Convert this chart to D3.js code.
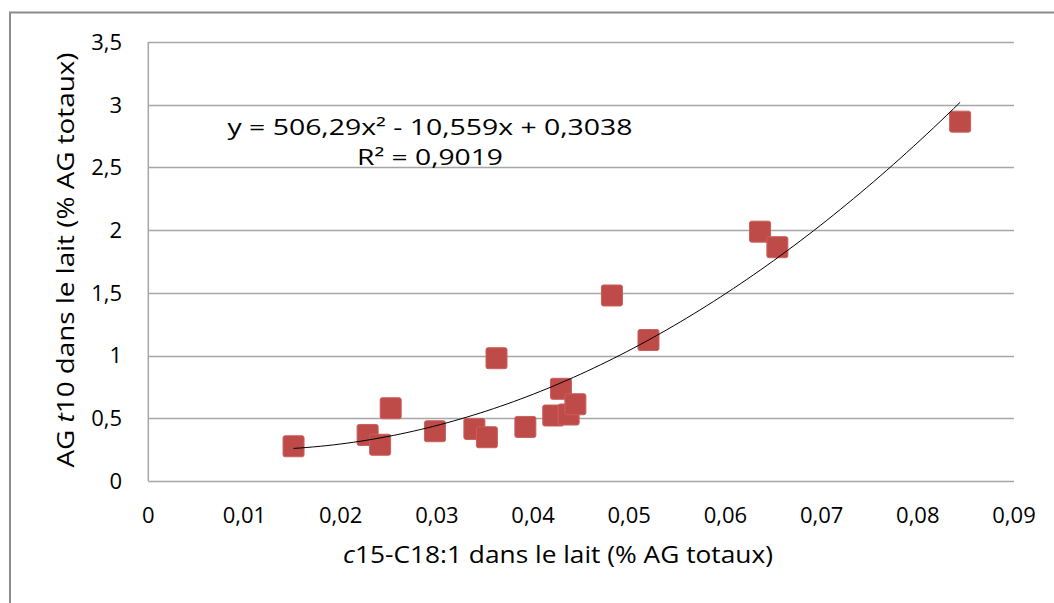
<!DOCTYPE html>
<html lang="fr">
<head>
    <meta charset="UTF-8">
    <title>AG t10 vs c15-C18:1</title>
    <script src="https://cdn.jsdelivr.net/npm/d3@7/dist/d3.min.js"></script>
    <style>
        body { margin: 0; background: #fff; }
        text { font-family: "Open Sans", "Noto Sans", sans-serif; fill: #000; }
    </style>
</head>
<body>

<svg width="1054" height="603"></svg>

<script>

    // data
    var xValues = [0.0151, 0.0228, 0.0241, 0.0252, 0.0298, 0.0339, 0.0352, 0.0392, 0.0362,
                   0.0421, 0.0429, 0.0437, 0.0444, 0.0482, 0.0520, 0.0636, 0.0654, 0.0844];
    var yValues = [0.277, 0.367, 0.289, 0.580, 0.397, 0.415, 0.349, 0.431, 0.979,
                   0.522, 0.735, 0.530, 0.612, 1.479, 1.124, 1.988, 1.864, 2.865];

    var xTicks = [0, 0.01, 0.02, 0.03, 0.04, 0.05, 0.06, 0.07, 0.08, 0.09];
    var xTickLabels = ["0", "0,01", "0,02", "0,03", "0,04", "0,05", "0,06", "0,07", "0,08", "0,09"];
    var yTicks = [0, 0.5, 1, 1.5, 2, 2.5, 3, 3.5];
    var yTickLabels = ["0", "0,5", "1", "1,5", "2", "2,5", "3", "3,5"];

    // polynomial trend (order 2) as given on the chart
    var trendCoef = [506.29, -10.559, 0.3038];
    var eqText = "y = 506,29x² - 10,559x + 0,3038";
    var r2Text = "R² = 0,9019";

    var svg = d3.select("svg");

    var x = d3.scaleLinear().domain([0, 0.09]).range([148.3, 1014]);
    var y = d3.scaleLinear().domain([0, 3.5]).range([481, 42]);

    // outer frame (left + top only visible)
    svg.append("path")
        .attr("d", "M10,603 V12.5 H1054")
        .attr("fill", "none")
        .attr("stroke", "#8c8c8c")
        .attr("stroke-width", 2);

    // gridlines
    svg.append("g")
        .selectAll("line")
        .data(yTicks)
        .enter()
        .append("line")
        .attr("x1", x(0))
        .attr("x2", x(0.09))
        .attr("y1", function (d) { return Math.round(y(d)) + 0.5; })
        .attr("y2", function (d) { return Math.round(y(d)) + 0.5; })
        .attr("stroke", "#a6a6a6")
        .attr("stroke-width", 1.5);

    // left axis line
    svg.append("line")
        .attr("x1", x(0)).attr("x2", x(0))
        .attr("y1", y(3.5)).attr("y2", y(0))
        .attr("stroke", "#a6a6a6")
        .attr("stroke-width", 1.5);

    // y tick labels
    svg.append("g")
        .selectAll("text")
        .data(yTicks)
        .enter()
        .append("text")
        .attr("x", 122)
        .attr("y", function (d) { return y(d); })
        .attr("dy", "0.36em")
        .attr("text-anchor", "end")
        .attr("font-size", 22)
        .text(function (d, i) { return yTickLabels[i]; });

    // x tick labels
    svg.append("g")
        .selectAll("text")
        .data(xTicks)
        .enter()
        .append("text")
        .attr("x", function (d) { return x(d); })
        .attr("y", 523)
        .attr("text-anchor", "middle")
        .attr("font-size", 22)
        .text(function (d, i) { return xTickLabels[i]; });

    // trend line between min and max x
    var xMin = d3.min(xValues), xMax = d3.max(xValues);
    var trendPts = d3.range(0, 101).map(function (i) {
        var xv = xMin + (xMax - xMin) * i / 100;
        return [xv, trendCoef[0] * xv * xv + trendCoef[1] * xv + trendCoef[2]];
    });
    var line = d3.line()
        .x(function (d) { return x(d[0]); })
        .y(function (d) { return y(d[1]); });

    // markers
    var size = 21;
    svg.append("g")
        .selectAll("rect")
        .data(xValues)
        .enter()
        .append("rect")
        .attr("x", function (d) { return x(d) - size / 2; })
        .attr("y", function (d, i) { return y(yValues[i]) - size / 2; })
        .attr("width", size)
        .attr("height", size)
        .attr("rx", 2)
        .attr("fill", "#be4b48")
        .attr("stroke", "#c9605d")
        .attr("stroke-width", 1);

    svg.append("path")
        .attr("d", line(trendPts))
        .attr("fill", "none")
        .attr("stroke", "#000")
        .attr("stroke-width", 1);

    // equation label
    svg.append("text")
        .attr("x", 430)
        .attr("y", 135)
        .attr("text-anchor", "middle")
        .attr("font-size", 22)
        .attr("textLength", 405)
        .attr("lengthAdjust", "spacingAndGlyphs")
        .text(eqText);
    svg.append("text")
        .attr("x", 430)
        .attr("y", 165)
        .attr("text-anchor", "middle")
        .attr("font-size", 22)
        .attr("textLength", 146)
        .attr("lengthAdjust", "spacingAndGlyphs")
        .text(r2Text);

    // x axis title
    var xt = svg.append("text")
        .attr("x", 558)
        .attr("y", 563)
        .attr("text-anchor", "middle")
        .attr("font-size", 23)
        .attr("textLength", 430)
        .attr("lengthAdjust", "spacingAndGlyphs");
    xt.append("tspan").attr("font-style", "italic").text("c");
    xt.append("tspan").text("15-C18:1 dans le lait (% AG totaux)");

    // y axis title
    var yt = svg.append("text")
        .attr("transform", "translate(74,260) rotate(-90)")
        .attr("text-anchor", "middle")
        .attr("font-size", 23)
        .attr("textLength", 415)
        .attr("lengthAdjust", "spacingAndGlyphs");
    yt.append("tspan").text("AG ");
    yt.append("tspan").attr("font-style", "italic").text("t");
    yt.append("tspan").text("10 dans le lait (% AG totaux)");

</script>
</body>
</html>
